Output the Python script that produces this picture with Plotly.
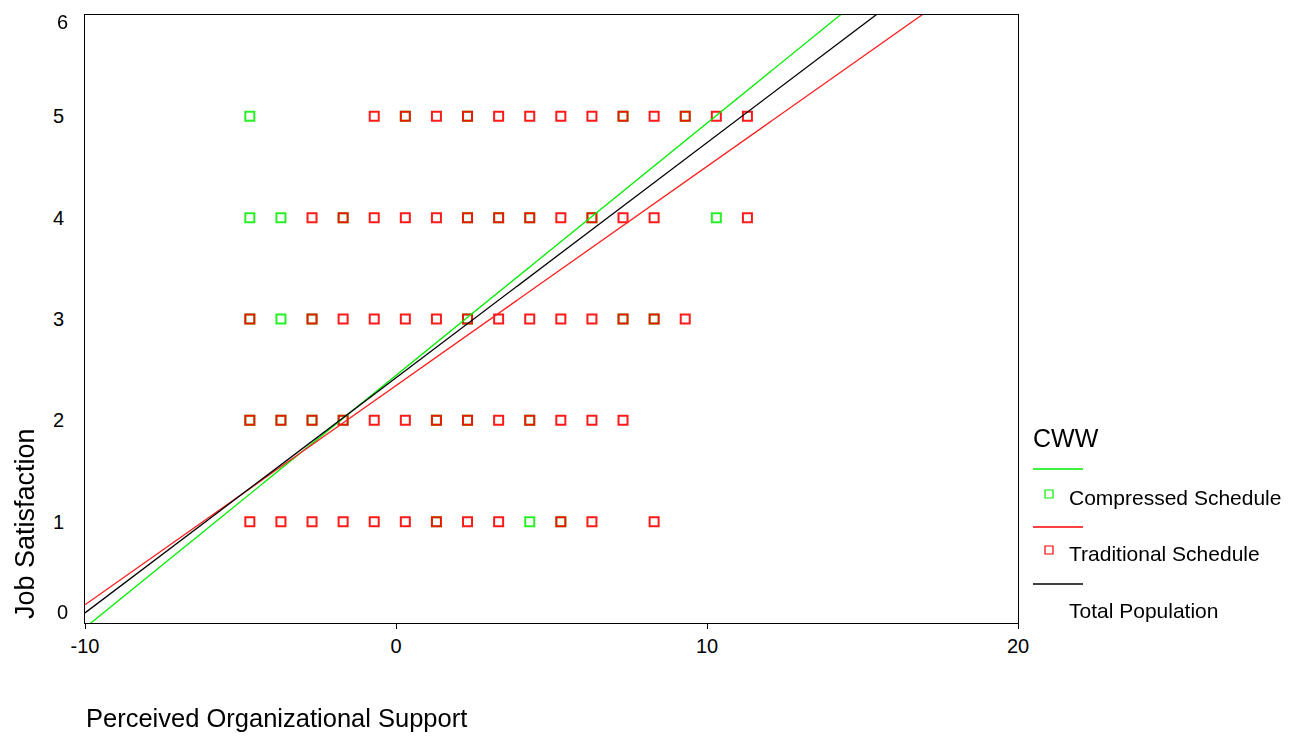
import plotly.graph_objects as go

# ---------------- data ----------------
x_levels = [-4.7, -3.7, -2.7, -1.7, -0.7, 0.3, 1.3, 2.3, 3.3, 4.3, 5.3, 6.3, 7.3, 8.3, 9.3, 10.3, 11.3]

# Compressed schedule cases (x, y)
green_x = [-4.7, 0.3, 2.3, 7.3, 9.3,
           -4.7, -3.7, -1.7, 2.3, 3.3, 4.3, 6.3, 10.3,
           -4.7, -3.7, -2.7, 2.3, 7.3, 8.3,
           -4.7, -3.7, -2.7, -1.7, 1.3, 2.3, 4.3,
           1.3, 4.3, 5.3]
green_y = [5, 5, 5, 5, 5,
           4, 4, 4, 4, 4, 4, 4, 4,
           3, 3, 3, 3, 3, 3,
           2, 2, 2, 2, 2, 2, 2,
           1, 1, 1]

# Traditional schedule cases (x, y)
red_x = [-0.7, 0.3, 1.3, 2.3, 3.3, 4.3, 5.3, 6.3, 7.3, 8.3, 9.3, 10.3, 11.3,
         -2.7, -1.7, -0.7, 0.3, 1.3, 2.3, 3.3, 4.3, 5.3, 6.3, 7.3, 8.3, 11.3,
         -4.7, -2.7, -1.7, -0.7, 0.3, 1.3, 2.3, 3.3, 4.3, 5.3, 6.3, 7.3, 8.3, 9.3,
         -4.7, -3.7, -2.7, -1.7, -0.7, 0.3, 1.3, 2.3, 3.3, 4.3, 5.3, 6.3, 7.3,
         -4.7, -3.7, -2.7, -1.7, -0.7, 0.3, 1.3, 2.3, 3.3, 5.3, 6.3, 8.3]
red_y = [5] * 13 + [4] * 13 + [3] * 14 + [2] * 13 + [1] * 12

# Regression fits: (intercept at x=0, slope)
fit_names = ["Compressed Schedule", "Traditional Schedule", "Total Population"]
fit_intercepts = [2.443, 2.343, 2.42]
fit_slopes = [0.249, 0.2163, 0.232]
fit_colors = ["#00ee00", "#ff2020", "#000000"]
fit_range = [-10, 20]

x_ticks = [-10, 0, 10, 20]
y_ticks = [1, 2, 3, 4, 5]

# ---------------- figure ----------------
fig = go.Figure()

marker_style = dict(symbol="square-open", size=9, line=dict(width=2))
fig.add_trace(go.Scatter(x=green_x, y=green_y, mode="markers", name="Compressed Schedule",
                         marker=dict(color="#00ee00", **marker_style), opacity=0.85,
                         showlegend=False, cliponaxis=False))
fig.add_trace(go.Scatter(x=red_x, y=red_y, mode="markers", name="Traditional Schedule",
                         marker=dict(color="#ff0000", **marker_style), opacity=0.9,
                         showlegend=False, cliponaxis=False))

for name, b0, b1, col in zip(fit_names, fit_intercepts, fit_slopes, fit_colors):
    xs = fit_range
    ys = [b0 + b1 * v for v in xs]
    fig.add_trace(go.Scatter(x=xs, y=ys, mode="lines", name=name,
                             line=dict(color=col, width=1.3), showlegend=False))

# ------------- layout helpers -------------
OFF = 8  # page body offset
L, R, T, B = 85, 1018, 15, 623  # screen pixels of plot area
W, H = 1304, 740

def px(xp):
    return (xp - L) / (R - L)

def py(yp):
    return (B - yp) / (B - T)

font_family = "Liberation Sans, Arial, sans-serif"

def note(text, x, y, size, xanchor="center", angle=0):
    return dict(text=text, x=px(x), y=py(y), xref="paper", yref="paper",
                xanchor=xanchor, yanchor="middle", textangle=angle, showarrow=False,
                font=dict(size=size, color="#000", family=font_family))

annotations = [
    note("Job Satisfaction", 25, 524, 27, angle=-90),
    note("Perceived Organizational Support", 84, 718, 25.5, xanchor="left"),
    note("0", 70, 612, 20, xanchor="right"),
    note("6", 70, 22, 20, xanchor="right"),
    note("CWW", 1031, 438, 25, xanchor="left"),
]
shapes = []
legend_rows = [
    ("Compressed Schedule", "#00ee00", 469, 497, True),
    ("Traditional Schedule", "#ff0000", 527, 553, True),
    ("Total Population", "#000000", 584, 610, False),
]
for label, col, ly, ty, has_marker in legend_rows:
    shapes.append(dict(type="line", xref="paper", yref="paper",
                       x0=px(1033), x1=px(1083), y0=py(ly), y1=py(ly),
                       line=dict(color=col, width=1.3)))
    if has_marker:
        shapes.append(dict(type="rect", xref="paper", yref="paper",
                           x0=px(1045), x1=px(1053), y0=py(ty - 7), y1=py(ty + 1),
                           line=dict(color=col, width=1.2)))
    annotations.append(note(label, 1067, ty, 21, xanchor="left"))

fig.update_layout(
    width=W, height=H,
    margin=dict(l=L - OFF, r=W - R + OFF, t=T - OFF, b=H - B + OFF, pad=0),
    paper_bgcolor="white", plot_bgcolor="white",
    font=dict(family=font_family, size=20, color="#000"),
    xaxis=dict(range=[-10, 20], tickvals=x_ticks, ticktext=[str(v) for v in x_ticks],
               showgrid=False, zeroline=False, showline=True, linecolor="black", linewidth=1,
               mirror=True, ticks="outside", ticklen=5, tickcolor="black",
               tickfont=dict(size=20), automargin=False, ticklabeloverflow="allow"),
    yaxis=dict(range=[0, 6], tickvals=y_ticks, ticktext=[str(v) for v in y_ticks],
               showgrid=False, zeroline=False, showline=True, linecolor="black", linewidth=1,
               mirror=True, ticks="", ticklabelstandoff=16,
               tickfont=dict(size=20), automargin=False, ticklabeloverflow="allow"),
    annotations=annotations,
    shapes=shapes,
)

fig.write_html("out.html")
